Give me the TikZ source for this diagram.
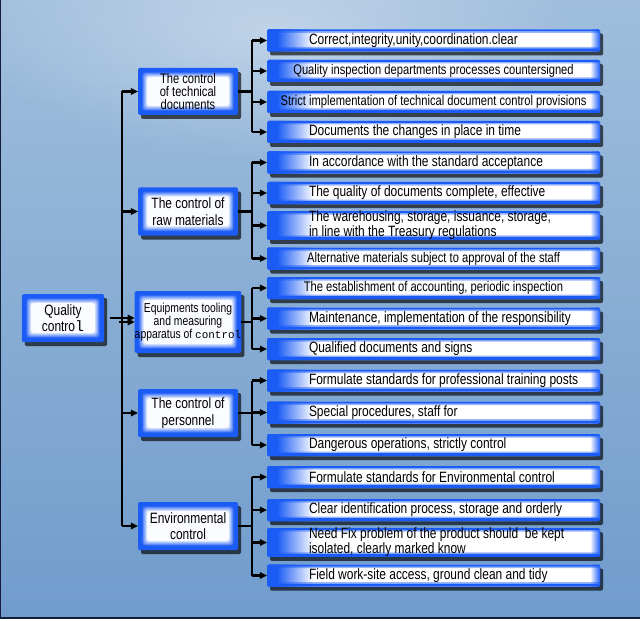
\documentclass[tikz,border=0pt]{standalone}
\usepackage{fontspec}
\setmainfont{Liberation Sans}[FakeStretch=0.8]
\setmonofont{Liberation Mono}
\usetikzlibrary{shadows,fadings}
\definecolor{boxblue}{RGB}{28,92,246}
\definecolor{bgtop}{RGB}{160,190,220}
\definecolor{bgbottom}{RGB}{112,156,204}
\definecolor{framenavy}{RGB}{20,30,60}
\pgfdeclarehorizontalshading{leafglow}{100bp}{color(0bp)=(boxblue); color(26.5bp)=(boxblue); color(32bp)=(white); color(73.5bp)=(white); color(75bp)=(boxblue); color(100bp)=(boxblue)}
\tikzfading[name=bgfade, inner color=transparent!0, outer color=transparent!100]
\newcommand\lft[1]{\hspace*{42bp}\parbox{291bp}{\raggedright #1}}
\begin{document}
\begin{tikzpicture}[x=1bp,y=-1bp,
    box/.style={fill=boxblue, rounded corners=1.5bp, drop shadow={shadow xshift=3bp, shadow yshift=-4bp, opacity=.65, fill=black}},
    mid/.style={box, minimum width=100bp, minimum height=48bp, align=center, font=\fontsize{15}{16.5}\selectfont,
      path picture={\foreach \k [evaluate=\k as \c using int(100-14*\k)] in {0,...,7}
        \fill[boxblue!\c!white, rounded corners=3bp]
          ([shift={({3.5bp+.8bp*\k},{-3.5bp-.8bp*\k})}]path picture bounding box.north west) rectangle
          ([shift={({-3.5bp-.8bp*\k},{3.5bp+.8bp*\k})}]path picture bounding box.south east);}},
    tight/.style={font=\fontsize{14}{12.6}\selectfont},
    leaf/.style={box, minimum width=333bp, minimum height=22bp, font=\fontsize{15}{11.5}\selectfont,
      path picture={\shade[shading=leafglow] (path picture bounding box.south west) rectangle (path picture bounding box.north east);
        \fill[boxblue] (path picture bounding box.north west) rectangle ([yshift=-2bp]path picture bounding box.north east);
        \fill[boxblue, opacity=.45] ([yshift=-2bp]path picture bounding box.north west) rectangle ([yshift=-3.5bp]path picture bounding box.north east);
        \fill[boxblue] (path picture bounding box.south west) rectangle ([yshift=3bp]path picture bounding box.south east);
        \fill[boxblue, opacity=.45] ([yshift=3bp]path picture bounding box.south west) rectangle ([yshift=4.5bp]path picture bounding box.south east);}},
    small/.style={font=\fontsize{14}{11}\selectfont},
    wire/.style={line width=2.5bp, black}]
    \tikzstyle{every node}+=[inner sep=0pt]
    \useasboundingbox (0,0) rectangle (640,621);
    \shade[top color=bgtop, bottom color=bgbottom] (0,0) rectangle (640,621);
    \fill[white, opacity=.35, path fading=bgfade] (270,30) ellipse (300 and 130);
    \fill[white] (0,618.6) rectangle (640,621);
    \draw[framenavy, line width=1.2bp] (0.6,0) -- (0.6,618) -- (640,618);
    \draw (63,318) node [mid, minimum width=82bp, minimum height=48bp] (qc) {Quality\\contro{\ttfamily l}};
    \draw (188,91.5) node [mid, tight, minimum height=47bp] (tech) {The control\\of technical\\documents};
    \draw (188,211.5) node [mid] (raw) {The control of\\raw materials};
    \draw (188,322) node [mid, minimum height=62bp, font=\fontsize{13}{11.8}\selectfont] (equip) {Equipments tooling\\and measuring\\apparatus of {\ttfamily\fontsize{11}{11}\selectfont control}};
    \draw (188,413) node [mid] (pers) {The control of\\personnel};
    \draw (188,526) node [mid] (env) {Environmental\\control};
    \draw (433.5,40.5) node [leaf] (tech1) {\lft{Correct,integrity,unity,coordination.clear}};
    \draw (433.5,71) node [leaf, small] (tech2) {Quality inspection departments processes countersigned};
    \draw (433.5,102) node [leaf, small] (tech3) {Strict implementation of technical document control provisions};
    \draw (433.5,132) node [leaf] (tech4) {\lft{Documents the changes in place in time}};
    \draw (433.5,162.5) node [leaf] (raw1) {\lft{In accordance with the standard acceptance}};
    \draw (433.5,193) node [leaf] (raw2) {\lft{The quality of documents complete, effective}};
    \draw (433.5,225.5) node [leaf, minimum height=27bp] (raw3) {\lft{The warehousing, storage, issuance, storage,\\in line with the Treasury regulations}};
    \draw (433.5,258.5) node [leaf, small] (raw4) {Alternative materials subject to approval of the staff};
    \draw (433.5,288) node [leaf, small] (equip1) {The establishment of accounting, periodic inspection};
    \draw (433.5,318.5) node [leaf] (equip2) {\lft{Maintenance, implementation of the responsibility}};
    \draw (433.5,349) node [leaf] (equip3) {\lft{Qualified documents and signs}};
    \draw (433.5,380.5) node [leaf] (pers1) {\lft{Formulate standards for professional training posts}};
    \draw (433.5,412.5) node [leaf] (pers2) {\lft{Special procedures, staff for}};
    \draw (433.5,445) node [leaf] (pers3) {\lft{Dangerous operations, strictly control}};
    \draw (433.5,477) node [leaf] (env1) {\lft{Formulate standards for Environmental control}};
    \draw (433.5,510) node [leaf] (env2) {\lft{Clear identification process, storage and orderly}};
    \draw (433.5,542.5) node [leaf, minimum height=27bp] (env3) {\lft{Need Fix problem of the product should\ \ be kept\\isolated, clearly marked know}};
    \draw (433.5,575.5) node [leaf] (env4) {\lft{Field work-site access, ground clean and tidy}};
    \draw [wire] ([xshift=6bp]qc.east) -- ([xshift=-7bp]qc.east -| equip.west);
    \fill (qc.east -| equip.west) -- ++(-7,-3.5) -- ++(0,7) -- cycle;
    \draw [wire] ([xshift=-16bp]tech.west) -- ([xshift=-16bp]env.west);
    \foreach \m in {tech,raw,equip,pers,env} {
        \draw [wire] ([xshift=-16bp]\m.west) -- ([xshift=-7bp]\m.west);
        \fill (\m.west) -- ++(-7,-3.5) -- ++(0,7) -- cycle;
    }
    \foreach \m/\first/\last in {tech/tech1/tech4, raw/raw1/raw4, equip/equip1/equip3, pers/pers1/pers3, env/env1/env4} {
        \draw [wire] (\m.east) -- ([xshift=-15bp]\m.east -| \first.west);
        \draw [wire] ([xshift=-15bp]\first.west) -- ([xshift=-15bp]\last.west);
    }
    \foreach \c in {tech1,tech2,tech3,tech4,raw1,raw2,raw3,raw4,equip1,equip2,equip3,pers1,pers2,pers3,env1,env2,env3,env4} {
        \draw [wire] ([xshift=-15bp]\c.west) -- ([xshift=-7bp]\c.west);
        \fill (\c.west) -- ++(-7,-3.5) -- ++(0,7) -- cycle;
    }
    \end{tikzpicture}
\end{document}
